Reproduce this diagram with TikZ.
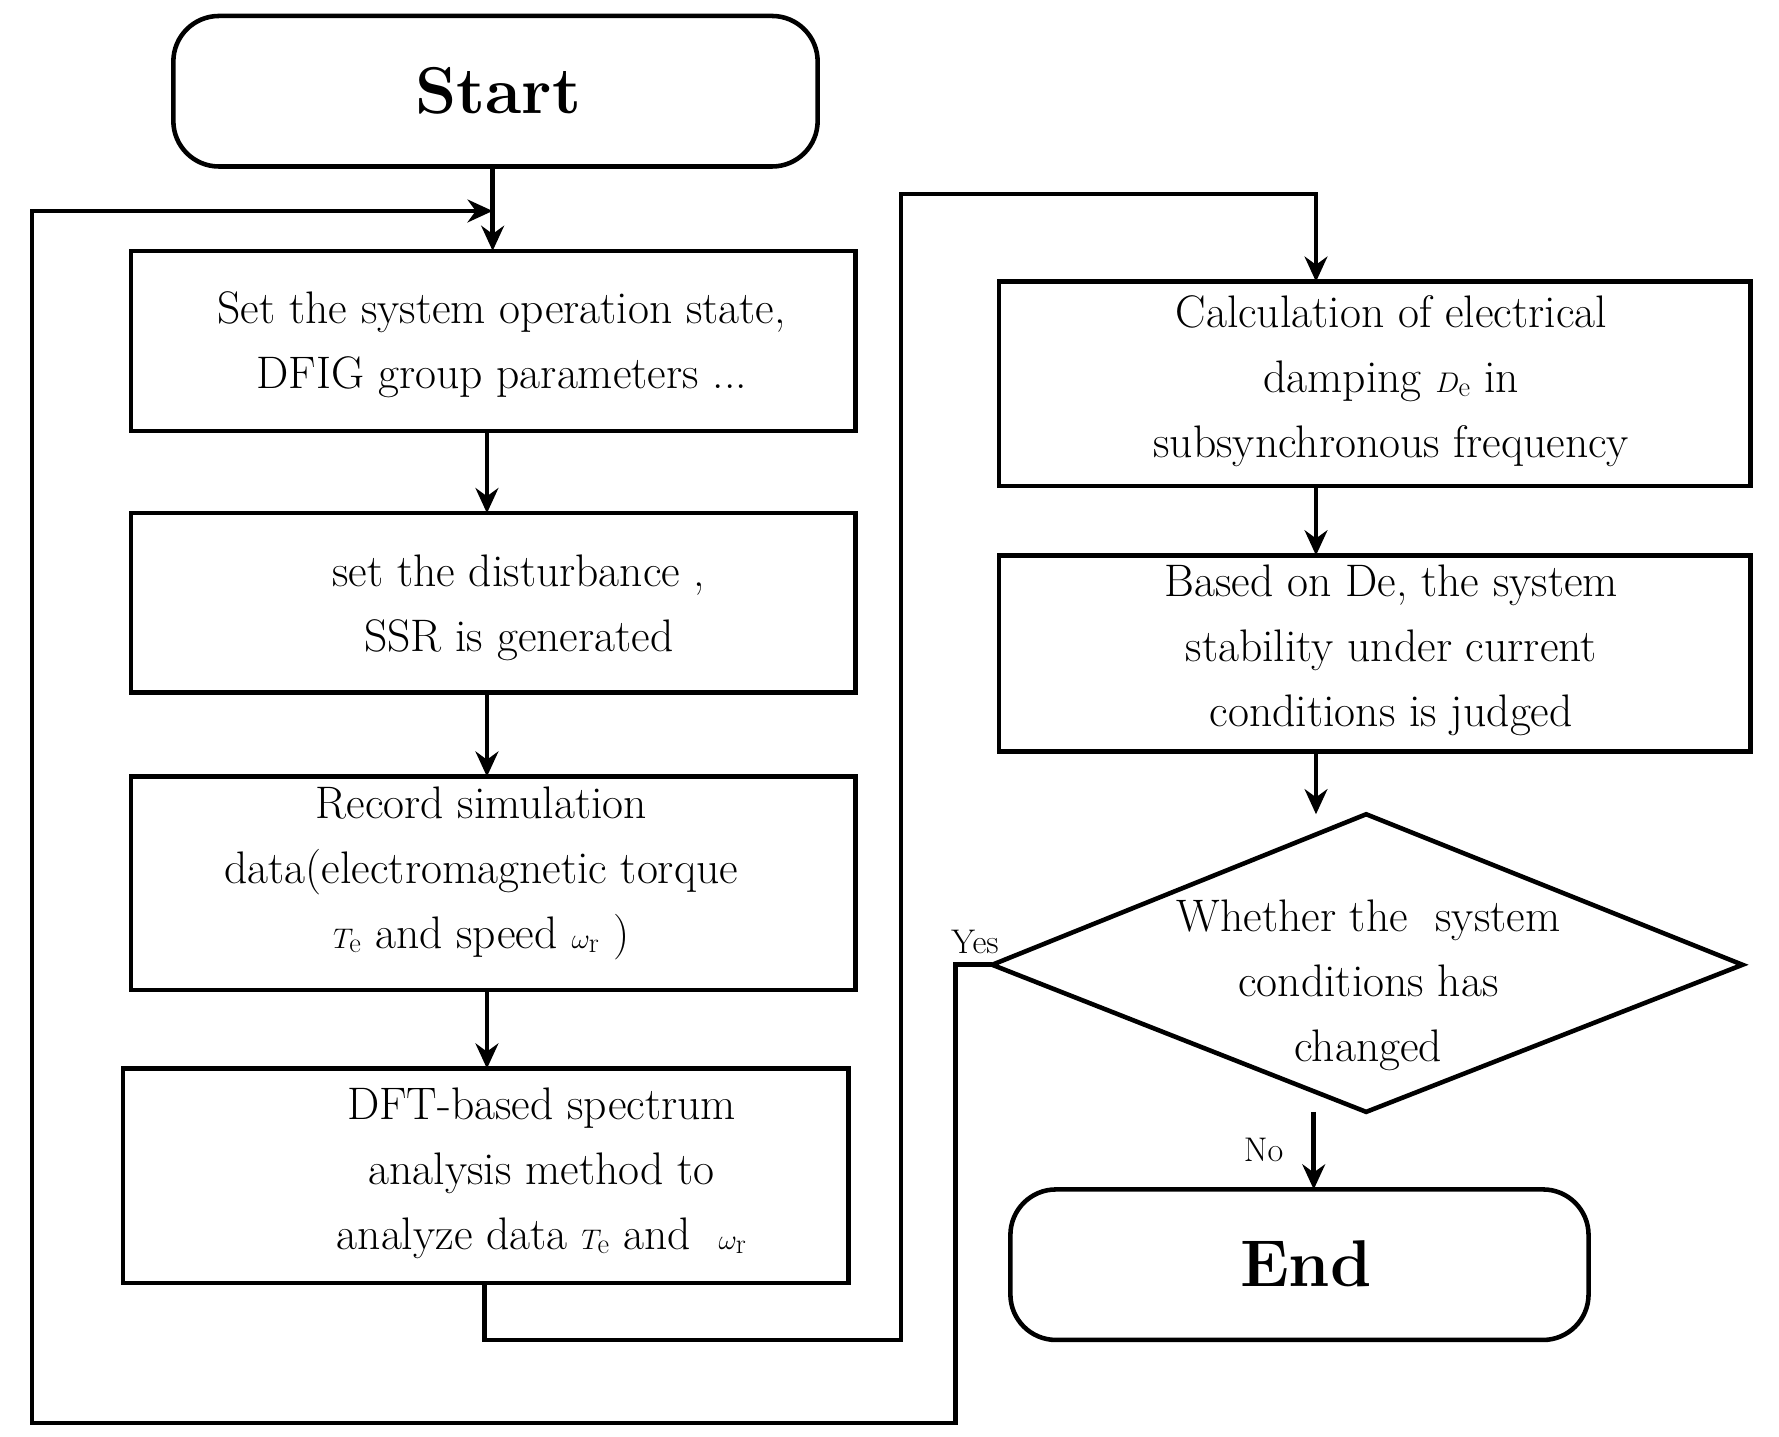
\documentclass[tikz,border=0pt]{standalone}
\usetikzlibrary{arrows.meta}
\begin{document}
\begin{tikzpicture}[x=1pt,y=-1pt,
 box/.style={draw,line width=4pt,inner sep=0pt},
 txt/.style={font=\fontsize{40}{57}\selectfont,align=center},
 arr/.style={line width=4pt,-{Stealth[length=22pt,width=20pt]}},
 ln/.style={line width=4pt}]
\useasboundingbox (0,0) rectangle (1560,1260);
\draw[box,rounded corners=40pt] (152,14) rectangle (717,146);
\node[font=\fontsize{58}{60}\selectfont\bfseries] (start) at (437,80) {Start};
\draw[box] (115,220) rectangle (750,378);
\node[txt] (b1) at (440,302) {Set the system operation state,\\ DFIG group parameters ...};
\draw[box] (115,450) rectangle (750,607);
\node[txt] (b2) at (455,533) {set the disturbance ,\\ SSR is generated};
\draw[box] (115,681) rectangle (750,868);
\node[txt] (b3) at (422,766) {Record simulation\\ data(electromagnetic torque\\ $T_{\mathrm e}$ and speed $\omega_{\mathrm r}$ )};
\draw[box] (108,937) rectangle (744,1125);
\node[txt] (b4) at (475,1029) {DFT-based spectrum\\ analysis method to\\ analyze data $T_{\mathrm e}$ and\ \ $\omega_{\mathrm r}$};
\draw[box] (876,247) rectangle (1535,426);
\node[txt] (r1) at (1220,334) {Calculation of electrical\\ damping $D_{\mathrm e}$ in\\ subsynchronous frequency};
\draw[box] (876,487) rectangle (1535,659);
\node[txt] (r2) at (1220,570) {Based on De, the system\\ stability under current\\ conditions is judged};
\draw[ln] (870,846) -- (1198,714) -- (1528,846) -- (1198,975) -- cycle;
\node[txt] (d) at (1200,864) {Whether the\ \ system\\ conditions has\\ changed};
\draw[box,rounded corners=40pt] (886,1043) rectangle (1393,1175);
\node[font=\fontsize{58}{60}\selectfont\bfseries] (end) at (1145,1108) {End};
\draw[arr] (432,146) -- (432,220);
\draw[arr] (427,378) -- (427,450);
\draw[arr] (427,607) -- (427,681);
\draw[arr] (427,868) -- (427,937);
\draw[arr] (425,1125) -- (425,1175) -- (790,1175) -- (790,170) -- (1154,170) -- (1154,247);
\draw[arr] (1154,426) -- (1154,487);
\draw[arr] (1154,659) -- (1154,714);
\draw[arr] (1152,975) -- (1152,1043);
\draw[arr] (870,846) -- (838,846) -- (838,1248) -- (28,1248) -- (28,185) -- (432,185);
\node[font=\fontsize{30}{32}\selectfont] at (855,826) {Yes};
\node[font=\fontsize{30}{32}\selectfont] at (1108,1008) {No};
\end{tikzpicture}
\end{document}
